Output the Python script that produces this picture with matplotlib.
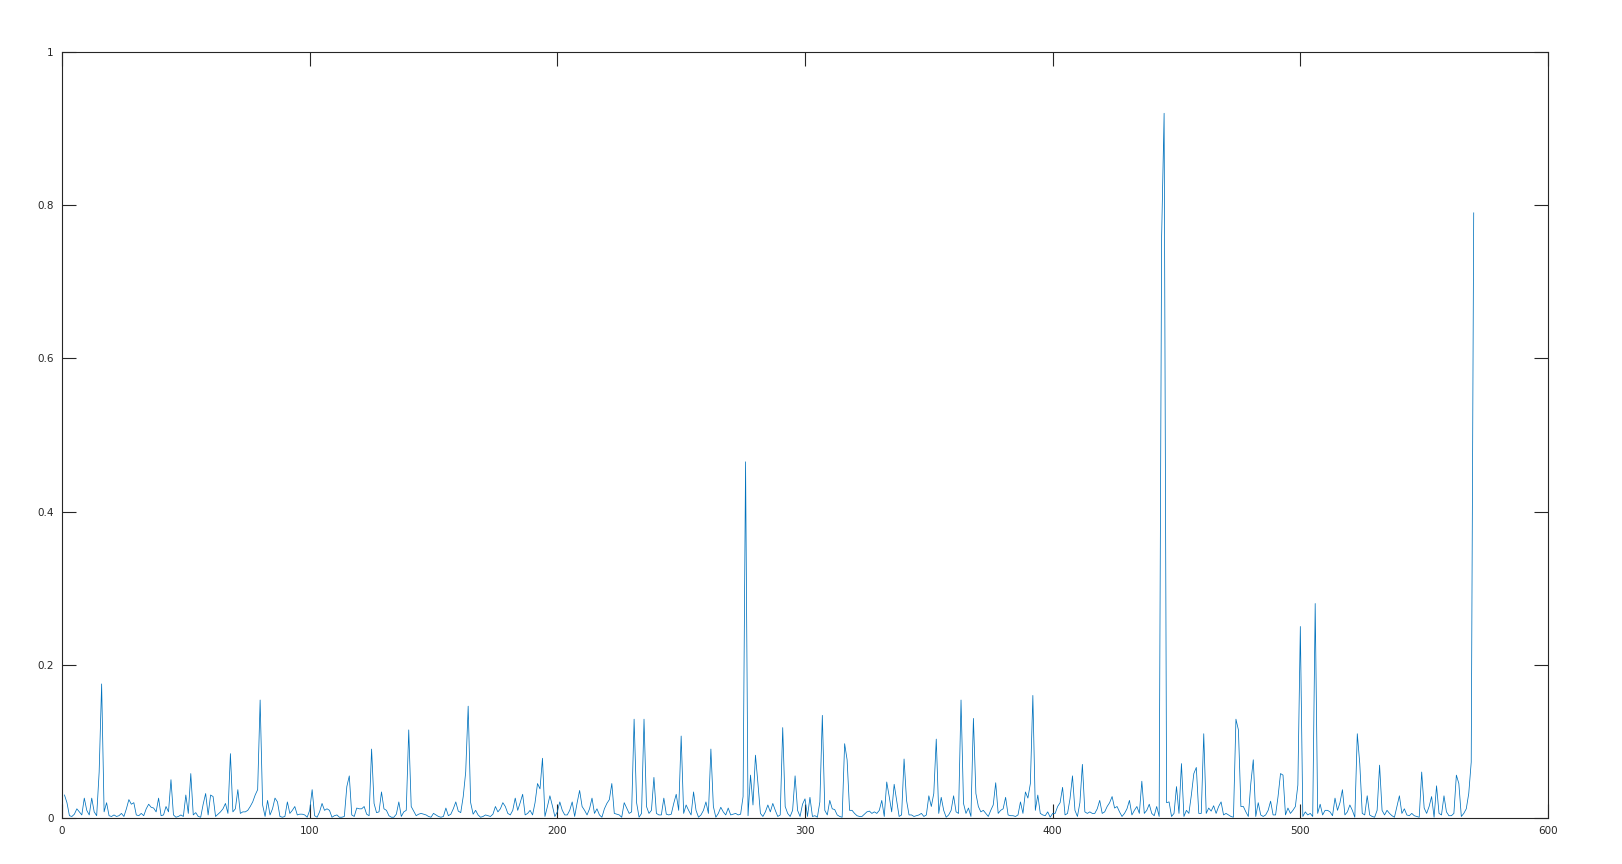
import numpy as np
import matplotlib
matplotlib.use("Agg")
import matplotlib.pyplot as plt

# values, sample 1..570
amp = [
    0.030, 0.020, 0.003, 0.002, 0.005, 0.012, 0.008, 0.004, 0.026, 0.010,
    0.004, 0.026, 0.008, 0.003, 0.060, 0.175, 0.008, 0.020, 0.003, 0.002,
    0.004, 0.002, 0.003, 0.006, 0.002, 0.012, 0.024, 0.018, 0.020, 0.004,
    0.003, 0.006, 0.003, 0.012, 0.018, 0.014, 0.013, 0.008, 0.026, 0.003,
    0.004, 0.015, 0.008, 0.050, 0.004, 0.001, 0.002, 0.004, 0.002, 0.030,
    0.006, 0.058, 0.004, 0.007, 0.002, 0.001, 0.018, 0.032, 0.004, 0.030,
    0.028, 0.002, 0.005, 0.008, 0.012, 0.019, 0.006, 0.084, 0.008, 0.012,
    0.037, 0.006, 0.008, 0.008, 0.010, 0.015, 0.021, 0.030, 0.037, 0.154,
    0.017, 0.002, 0.023, 0.004, 0.012, 0.026, 0.021, 0.002, 0.001, 0.002,
    0.021, 0.006, 0.010, 0.015, 0.004, 0.005, 0.005, 0.004, 0.001, 0.010,
    0.037, 0.003, 0.001, 0.008, 0.019, 0.010, 0.012, 0.010, 0.001, 0.003,
    0.004, 0.001, 0.001, 0.002, 0.041, 0.055, 0.004, 0.002, 0.013, 0.012,
    0.012, 0.015, 0.005, 0.003, 0.090, 0.019, 0.007, 0.008, 0.034, 0.012,
    0.010, 0.003, 0.001, 0.001, 0.005, 0.021, 0.002, 0.008, 0.010, 0.115,
    0.015, 0.009, 0.003, 0.005, 0.006, 0.005, 0.004, 0.002, 0.001, 0.006,
    0.004, 0.002, 0.001, 0.002, 0.013, 0.003, 0.005, 0.012, 0.021, 0.009,
    0.007, 0.028, 0.060, 0.146, 0.020, 0.005, 0.010, 0.004, 0.001, 0.002,
    0.004, 0.003, 0.002, 0.005, 0.015, 0.008, 0.012, 0.020, 0.015, 0.006,
    0.004, 0.010, 0.026, 0.010, 0.020, 0.031, 0.004, 0.006, 0.010, 0.004,
    0.020, 0.045, 0.038, 0.078, 0.002, 0.015, 0.029, 0.016, 0.002, 0.008,
    0.021, 0.010, 0.004, 0.004, 0.010, 0.021, 0.002, 0.020, 0.036, 0.015,
    0.010, 0.004, 0.012, 0.026, 0.006, 0.012, 0.004, 0.001, 0.012, 0.019,
    0.024, 0.045, 0.006, 0.005, 0.004, 0.001, 0.020, 0.013, 0.006, 0.008,
    0.129, 0.020, 0.001, 0.006, 0.129, 0.015, 0.006, 0.010, 0.053, 0.006,
    0.004, 0.004, 0.026, 0.005, 0.004, 0.005, 0.019, 0.031, 0.010, 0.107,
    0.006, 0.017, 0.010, 0.004, 0.034, 0.010, 0.001, 0.004, 0.010, 0.021,
    0.006, 0.090, 0.015, 0.001, 0.006, 0.014, 0.008, 0.004, 0.013, 0.004,
    0.005, 0.006, 0.004, 0.005, 0.028, 0.465, 0.003, 0.056, 0.017, 0.082,
    0.045, 0.006, 0.002, 0.008, 0.017, 0.008, 0.019, 0.010, 0.002, 0.004,
    0.118, 0.015, 0.006, 0.002, 0.010, 0.055, 0.010, 0.002, 0.018, 0.025,
    0.002, 0.027, 0.002, 0.003, 0.001, 0.021, 0.134, 0.010, 0.004, 0.023,
    0.012, 0.011, 0.004, 0.002, 0.001, 0.097, 0.076, 0.010, 0.010, 0.006,
    0.003, 0.002, 0.002, 0.005, 0.008, 0.009, 0.006, 0.008, 0.006, 0.010,
    0.023, 0.002, 0.047, 0.028, 0.008, 0.044, 0.023, 0.002, 0.004, 0.077,
    0.023, 0.004, 0.004, 0.002, 0.003, 0.004, 0.006, 0.002, 0.004, 0.029,
    0.015, 0.032, 0.103, 0.006, 0.027, 0.010, 0.001, 0.004, 0.010, 0.029,
    0.008, 0.006, 0.154, 0.019, 0.006, 0.013, 0.002, 0.130, 0.032, 0.015,
    0.008, 0.010, 0.006, 0.002, 0.010, 0.017, 0.046, 0.006, 0.010, 0.012,
    0.027, 0.004, 0.003, 0.003, 0.002, 0.004, 0.021, 0.006, 0.034, 0.026,
    0.045, 0.160, 0.010, 0.030, 0.006, 0.004, 0.003, 0.008, 0.001, 0.006,
    0.006, 0.015, 0.020, 0.040, 0.004, 0.006, 0.025, 0.055, 0.010, 0.002,
    0.020, 0.070, 0.008, 0.006, 0.008, 0.006, 0.006, 0.012, 0.023, 0.006,
    0.008, 0.015, 0.020, 0.028, 0.013, 0.015, 0.008, 0.002, 0.006, 0.012,
    0.023, 0.004, 0.010, 0.015, 0.006, 0.048, 0.006, 0.010, 0.018, 0.006,
    0.003, 0.015, 0.002, 0.760, 0.920, 0.020, 0.021, 0.002, 0.006, 0.041,
    0.006, 0.071, 0.002, 0.010, 0.006, 0.030, 0.058, 0.066, 0.006, 0.006,
    0.110, 0.006, 0.013, 0.009, 0.016, 0.006, 0.015, 0.021, 0.004, 0.006,
    0.004, 0.002, 0.001, 0.129, 0.115, 0.015, 0.015, 0.008, 0.002, 0.045,
    0.076, 0.002, 0.020, 0.004, 0.002, 0.004, 0.010, 0.022, 0.004, 0.004,
    0.028, 0.058, 0.056, 0.004, 0.013, 0.006, 0.010, 0.015, 0.043, 0.250,
    0.002, 0.008, 0.004, 0.006, 0.002, 0.280, 0.006, 0.018, 0.004, 0.010,
    0.010, 0.008, 0.003, 0.026, 0.010, 0.020, 0.037, 0.004, 0.008, 0.017,
    0.010, 0.001, 0.110, 0.071, 0.006, 0.004, 0.029, 0.004, 0.002, 0.001,
    0.010, 0.069, 0.010, 0.004, 0.010, 0.006, 0.003, 0.001, 0.015, 0.029,
    0.006, 0.012, 0.004, 0.003, 0.006, 0.003, 0.002, 0.001, 0.060, 0.013,
    0.006, 0.015, 0.028, 0.001, 0.042, 0.006, 0.004, 0.029, 0.008, 0.003,
    0.003, 0.006, 0.056, 0.045, 0.002, 0.006, 0.012, 0.032, 0.073, 0.790,
]
x = np.arange(1, len(amp) + 1)

xticks = [0, 100, 200, 300, 400, 500, 600]
yticks = [0, 0.2, 0.4, 0.6, 0.8, 1]
ylabels = ["0", "0.2", "0.4", "0.6", "0.8", "1"]

fig = plt.figure(figsize=(16.22, 8.64), dpi=100)
ax = fig.add_axes([62 / 1622, 46 / 864, 1486 / 1622, 766 / 864])
ax.plot(x, amp, color="#0072BD", linewidth=0.55)

ax.set_xlim(0, 600)
ax.set_ylim(0, 1)
ax.set_xticks(xticks)
ax.set_yticks(yticks)
ax.set_yticklabels(ylabels)
ax.tick_params(direction="in", length=10, width=0.8, labelsize=7.5,
               top=True, right=True, colors="#262626", pad=6)
for s in ax.spines.values():
    s.set_linewidth(0.8)
    s.set_color("#262626")

fig.savefig("out.png", dpi=100)
